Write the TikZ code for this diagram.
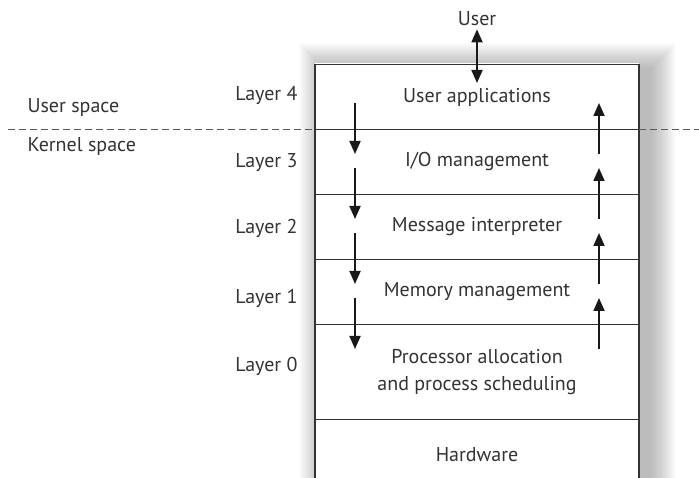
\documentclass[tikz,border=0pt]{standalone}
\usepackage{fontspec}
\setmainfont{PT Sans}
\usepackage{xcolor}
\definecolor{osLine}{RGB}{51, 51, 51}
\definecolor{osDash}{RGB}{90, 90, 90}
\usepackage{tikz}
\usetikzlibrary{
    arrows.meta,
    positioning,
    calc
}

\begin{document}
\begin{tikzpicture}[
    x=1pt, y=-1pt,
    layerBox/.style={
        rectangle, draw=osLine, line width=1.3pt,
        minimum width=324pt, minimum height=65pt,
        inner sep=0pt, outer sep=0pt, font=\fontsize{20}{27}\selectfont,
        align=center, text=osLine
    },
    layerLabel/.style={
        anchor=base east, font=\fontsize{20}{24}\selectfont, text=osLine
    },
    spaceLabel/.style={
        anchor=base west, font=\fontsize{20}{24}\selectfont, text=osLine
    },
    flowArrow/.style={
        -{Triangle[width=11pt, length=13pt]}, line width=1.8pt, draw=black!90
    },
    userArrow/.style={
        {Triangle[width=11pt, length=13pt]}-{Triangle[width=11pt, length=13pt]},
        line width=1.8pt, draw=black!90
    },
    spaceLine/.style={
        draw=osDash, line width=1.1pt, dash pattern=on 7pt off 4pt
    }
]
    \useasboundingbox (0,0) rectangle (699,478);

    % Soft shadow round the stack
    \foreach \s in {1,...,26}
        \fill[black, opacity=0.011] (325-\s, 69-\s) rectangle (650+\s, 500);
    \fill[white] (315,63) rectangle (639,478);

    % Layer stack
    \node[layerBox] (appLayer) at (477,97) {User applications};
    \node[layerBox, below=0pt of appLayer] (ioLayer) {I/O management};
    \node[layerBox, below=0pt of ioLayer] (msgLayer) {Message interpreter};
    \node[layerBox, below=0pt of msgLayer] (memLayer) {Memory management};
    \node[layerBox, minimum height=95pt, below=0pt of memLayer] (procLayer)
        {Processor allocation\\and process scheduling};
    \node[layerBox, draw=none, minimum height=70pt, below=0pt of procLayer] (hwLayer) {Hardware};

    \draw[osLine, line width=1.3pt] (procLayer.south west) -- (hwLayer.south west);
    \draw[osLine, line width=1.3pt] (procLayer.south east) -- (hwLayer.south east);

    % User
    \node[font=\fontsize{20}{24}\selectfont, text=osLine, inner sep=3pt] (user) at (477,19) {User};
    \coordinate (userEnd) at (477,83);
    \draw[userArrow] (user.south) -- (userEnd);

    % Layer labels
    \node[layerLabel] (lab4) at (301,101) {Layer 4};
    \node[layerLabel] (lab3) at (301,168) {Layer 3};
    \node[layerLabel] (lab2) at (301,234) {Layer 2};
    \node[layerLabel] (lab1) at (301,304) {Layer 1};
    \node[layerLabel] (lab0) at (301,371) {Layer 0};

    % User space / kernel space
    \node[spaceLabel] (userSpace) at (24,113) {User space};
    \node[spaceLabel] (kernelSpace) at (24,152) {Kernel space};
    \coordinate (dashLeft) at (8,129.5);
    \coordinate (dashRight) at (699,129.5);
    \draw[spaceLine] (dashLeft) -- (appLayer.south west);
    \draw[spaceLine] (appLayer.south east) -- (dashRight);

    % Calls going down and returns going up
    \foreach \k in {0,...,3} {
        \coordinate (down\k a) at (355, 103+65*\k);
        \coordinate (down\k b) at (355, 154+65*\k);
        \coordinate (up\k a) at (599, 154+65*\k);
        \coordinate (up\k b) at (599, 103+65*\k);
        \draw[flowArrow] (down\k a) -- (down\k b);
        \draw[flowArrow] (up\k a) -- (up\k b);
    }

\end{tikzpicture}
\end{document}
